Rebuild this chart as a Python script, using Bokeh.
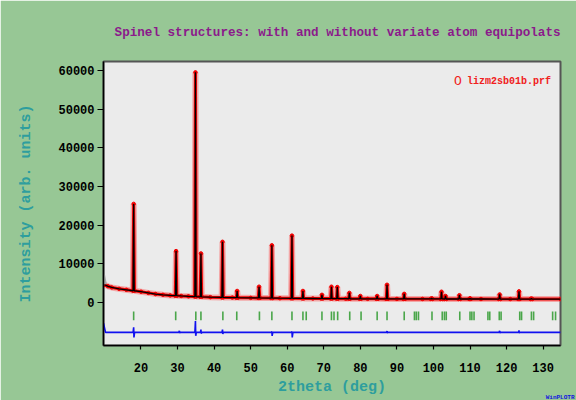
import numpy as np
from bokeh.plotting import figure
from bokeh.models import FixedTicker, Label, Range1d, Title
from bokeh.embed import file_html
from bokeh.resources import INLINE

# ---------------- data ----------------
# background (2theta deg, counts)
bg_tth = [10.0, 11.0, 12.0, 14.0, 16.0, 20.0, 22.0, 24.0, 26.0, 28.0, 31.0, 33.0,
          39.0, 45.0, 50.0, 58.0, 67.0, 76.0, 82.0, 90.0, 97.0, 113.0, 121.0, 134.8]
bg_int = [4600, 4200, 3900, 3550, 3300, 2800, 2500, 2200, 2000, 1850, 1700, 1600,
          1390, 1280, 1210, 1120, 1050, 990, 960, 940, 930, 915, 905, 900]

# Bragg peaks of the observed pattern (2theta deg, top counts)
peak_tth = [18.0, 29.6, 34.9, 36.4, 42.3, 46.3, 52.3, 55.8, 61.3, 64.3, 69.5,
            72.1, 73.7, 77.0, 80.0, 84.6, 87.3, 92.0, 99.5, 102.2, 103.3, 107.1,
            110.0, 118.1, 123.4, 126.8]
peak_int = [25500, 13300, 59500, 12700, 15700, 3000, 4100, 14800, 17300, 3000, 2000,
            4100, 4000, 2500, 1700, 1700, 4600, 2250, 1100, 2800, 1700, 1900,
            1100, 2100, 2900, 1050]

# excluded region at the start (gray)
excl_tth = [9.75, 10.25]
excl_int = [7200, 4700]

# difference curve (Yobs - Ycalc), drawn with an offset
diff_base = -7700
diff_start = -5300
diff_feat_tth = [18.0, 30.5, 34.9, 36.4, 42.3, 55.8, 61.3, 87.3, 118.1, 123.4]
diff_feat_hi = [-6400, -7300, -4800, -7000, -7000, -7500, -7500, -7400, -7300, -7200]
diff_feat_lo = [-9000, -7900, -8600, -8000, -8100, -8600, -9000, -7900, -7900, -7900]

# Bragg reflection positions (green ticks)
tick_tth = [18.0, 29.5, 35.0, 36.4, 42.4, 46.2, 52.4, 55.8, 61.3, 64.3, 65.2, 69.5,
            72.1, 72.8, 73.8, 77.1, 80.2, 84.6, 87.3, 92.0, 94.8, 95.3, 95.9, 99.6,
            102.4, 103.0, 103.5, 107.2, 110.0, 110.5, 111.1, 114.9, 115.4, 118.0,
            118.5, 123.6, 124.1, 126.8, 127.4, 132.6, 133.4]
tick_top = -2300
tick_bot = -4600

x_ticks = [20, 30, 40, 50, 60, 70, 80, 90, 100, 110, 120, 130]
y_ticks = [0, 10000, 20000, 30000, 40000, 50000, 60000]

title_text = "Spinel structures: with and without variate atom equipolats"
legend_text = "lizm2sb01b.prf"
x_title = "2theta (deg)"
y_title = "Intensity (arb. units)"
logo_text = "WinPLOTR"

# ---------------- build profiles ----------------
def build_profile(width):
    xs, ys = [], []
    for t, v in zip(bg_tth, bg_int):
        if min(abs(t - pt) for pt in peak_tth) > width * 1.5:
            xs.append(t); ys.append(v)
    for t, h in zip(peak_tth, peak_int):
        b = float(np.interp(t, bg_tth, bg_int))
        xs += [t - width, t, t + width]
        ys += [b, h, b]
    o = np.argsort(xs, kind="stable")
    return list(np.array(xs)[o]), list(np.array(ys)[o])

obs_x, obs_y = build_profile(0.22)
calc_x, calc_y = build_profile(0.16)

dx = [excl_tth[0], 10.3]
dy = [diff_start, diff_base]
for t, hi, lo in zip(diff_feat_tth, diff_feat_hi, diff_feat_lo):
    dx += [t - 0.15, t, t + 0.08, t + 0.25]
    dy += [diff_base, hi, lo, diff_base]
dx += [134.8]
dy += [diff_base]

# ---------------- figure ----------------
GREEN_BG = "#97C795"
MONO = "Liberation Mono"
TEAL = "#2E9E9E"

p = figure(width=576, height=400,
           x_range=Range1d(9.75, 134.75), y_range=Range1d(-11100, 62300),
           output_backend="svg", toolbar_location=None,
           min_border_left=103, min_border_right=16,
           min_border_top=61, min_border_bottom=55)
p.background_fill_color = "#EBEBEB"
p.border_fill_color = GREEN_BG
p.outline_line_color = "#555555"
p.outline_line_width = 2
p.xgrid.visible = False
p.ygrid.visible = False

# title
p.title.text = title_text
p.title.align = "right"
p.title.text_font = MONO
p.title.text_font_style = "bold"
p.title.text_font_size = "12.6px"
p.title.text_color = "#8B1A8B"
p.title.standoff = 43

# observed (red band + markers)
p.line(obs_x, obs_y, line_color="#FF4040", line_width=6, line_alpha=0.4)
p.line(obs_x, obs_y, line_color="#F00000", line_width=3)
p.scatter(obs_x, obs_y, marker="circle", size=3.5, color="#F00000")
# excluded part
p.line(excl_tth, excl_int, line_color="#A8A8A8", line_width=3)
# calculated
p.line(calc_x, calc_y, line_color="black", line_width=1.3)
# reflections
p.segment(x0=tick_tth, y0=[tick_top] * len(tick_tth), x1=tick_tth,
          y1=[tick_bot] * len(tick_tth), line_color="#2E9A2E", line_width=1.6,
          line_alpha=0.85)
# difference
p.line(dx, dy, line_color="#1010F0", line_width=1.6)

# axes
for ax in (p.xaxis, p.yaxis):
    ax.axis_line_color = "black"
    ax.axis_line_width = 1.5
    ax.major_tick_line_color = "black"
    ax.major_tick_line_width = 1.2
    ax.major_tick_in = 0
    ax.minor_tick_line_color = None
    ax.major_label_text_font = MONO
    ax.major_label_text_font_style = "bold"
    ax.major_label_text_font_size = "12px"
    ax.major_label_text_color = "black"
    ax.axis_label_text_font = MONO
    ax.axis_label_text_font_style = "bold"
    ax.axis_label_text_font_size = "15px"
    ax.axis_label_text_color = TEAL

p.xaxis.ticker = FixedTicker(ticks=x_ticks)
p.yaxis.ticker = FixedTicker(ticks=y_ticks)
p.xaxis.major_tick_out = 4
p.yaxis.major_tick_out = 6
p.xaxis.major_label_standoff = 13
p.yaxis.major_label_standoff = 3
p.xaxis.axis_label = x_title
p.yaxis.axis_label = y_title
p.xaxis.axis_label_standoff = 4
p.yaxis.axis_label_standoff = 20

# legend (inside the frame)
p.add_layout(Label(x=106.7, y=57100, text="O", text_font=MONO,
                   text_font_size="13px", text_color="#F02020",
                   text_baseline="middle", text_align="center"))
p.add_layout(Label(x=109.2, y=57100, text=legend_text, text_font=MONO,
                   text_font_style="bold", text_font_size="10px",
                   text_color="#F02020", text_baseline="middle", text_align="left"))

# small program logo at the bottom right
p.add_layout(Title(text=logo_text, align="right", text_font=MONO,
                   text_font_style="bold", text_font_size="6px",
                   vertical_align="top",
                   text_color="#1010E0", standoff=-10, offset=-14), "below")

open("out.html", "w").write(file_html(p, INLINE))
